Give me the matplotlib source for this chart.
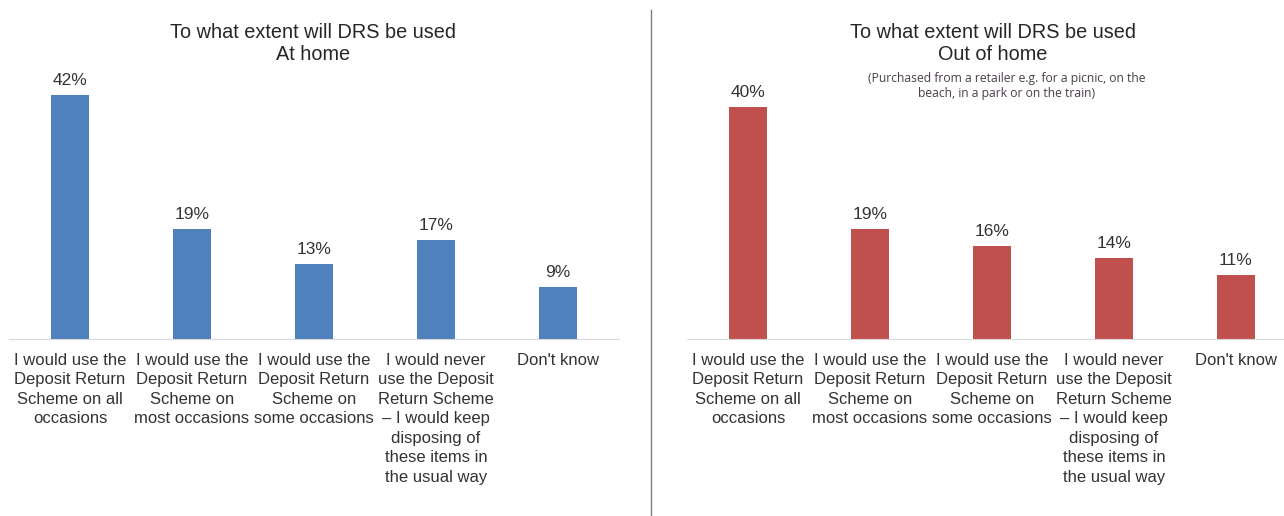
import matplotlib
matplotlib.use("Agg")
import matplotlib.pyplot as plt

# data
categories = [
    "I would use the\nDeposit Return\nScheme on all\noccasions",
    "I would use the\nDeposit Return\nScheme on\nmost occasions",
    "I would use the\nDeposit Return\nScheme on\nsome occasions",
    "I would never\nuse the Deposit\nReturn Scheme\n\u2013 I would keep\ndisposing of\nthese items in\nthe usual way",
    "Don't know",
]
at_home = [42, 19, 13, 17, 9]
out_of_home = [40, 19, 16, 14, 11]

title_main = "To what extent will DRS be used"
sub_left = "At home"
sub_right = "Out of home"
note_right = "(Purchased from a retailer e.g. for a picnic, on the\nbeach, in a park or on the train)"

plt.rcParams['font.family'] = ['Liberation Sans', 'DejaVu Sans']
W, H = 1284, 516
fig = plt.figure(figsize=(W / 100, H / 100), dpi=100)

px_per_pct = 5.8
base_px = 177   # baseline, from bottom
ax_h = 300


def panel(left_px, values, color):
    ax = fig.add_axes([left_px / W, base_px / H, 610 / W, ax_h / H])
    x = list(range(len(values)))
    bars = ax.bar(x, values, width=0.31, color=color)
    ax.set_xlim(-0.5, 4.5)
    ax.set_ylim(0, ax_h / px_per_pct)
    for b, v in zip(bars, values):
        ax.annotate(f"{v}%", (b.get_x() + b.get_width() / 2, v),
                    xytext=(0, 5), textcoords="offset points",
                    ha="center", va="bottom", fontsize=12.5, color="#333333")
    ax.set_xticks(x)
    ax.set_xticklabels(categories, fontsize=12, color="#333333",
                       va="top", linespacing=1.37)
    ax.tick_params(axis="x", length=0, pad=10)
    ax.set_yticks([])
    for s in ["left", "right", "top"]:
        ax.spines[s].set_visible(False)
    ax.spines["bottom"].set_color("#d9d9d9")
    ax.patch.set_alpha(0)
    return ax


panel(9, at_home, "#4f81bd")
panel(687, out_of_home, "#c0504d")

# titles
fig.text(313 / W, 1 - 32 / H, title_main, ha="center", va="center", fontsize=14.3, color="#262626")
fig.text(313 / W, 1 - 55 / H, sub_left, ha="center", va="center", fontsize=14.3, color="#262626")
fig.text(993 / W, 1 - 32 / H, title_main, ha="center", va="center", fontsize=14.3, color="#262626")
fig.text(993 / W, 1 - 55 / H, sub_right, ha="center", va="center", fontsize=14.3, color="#262626")
fig.text(1007 / W, 1 - 86 / H, note_right, ha="center", va="center", fontsize=8.7,
         color="#4a3f4a", family=["Open Sans", "DejaVu Sans"], linespacing=1.2)

# separator between the two charts
fig.add_artist(plt.Line2D([651 / W, 651 / W], [0, 1 - 10 / H], color="#7f7f7f", lw=1))

fig.savefig("out.png", dpi=100)
